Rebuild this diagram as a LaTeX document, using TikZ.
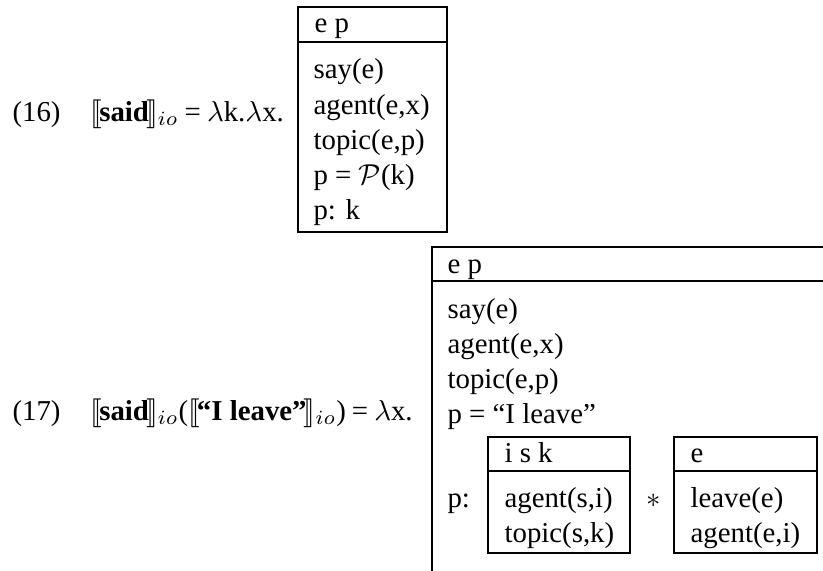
\documentclass[tikz,border=0pt]{standalone}
\usepackage{amsmath}
\usepackage{stmaryrd}
\usepackage{fontspec}
\setmainfont{Liberation Serif}
\usetikzlibrary{positioning}

\begin{document}
\begin{tikzpicture}[x=0.347pt,y=-0.347pt,
    every node/.style={anchor=base west,inner sep=0pt,
        font=\fontsize{10}{12}\selectfont},
    drs/.style={line width=0.4pt},
]
\clip (0,0) rectangle (823,570);
% (16): the verb alone
\node (n16) at (12,121) {(16)};
\node (lhs16) at (90,121)
    {$\llbracket\kern-1pt$\textbf{said}$\kern-1pt\rrbracket_{io}$\kern-.4pt{} = \kern-.4pt$\lambda$k.$\lambda$x.};
\draw[drs] (298,7) rectangle (447,232) (298,42) -- (447,42);
\node (u16) at (314,33) {e p};
\node (c16a) at (313,79) {say(e)};
\node (c16b) at (313,114) {agent(e,x)};
\node (c16c) at (313,149) {topic(e,p)};
\node (c16d) at (313,184) {p = $\mathcal{P}$(k)};
\node (c16e) at (313,219) {p: k};

% (17): applied to the quote
\node (n17) at (12,420) {(17)};
\node (lhs17) at (90,420)
    {$\llbracket\kern-1pt$\textbf{said}$\kern-1pt\rrbracket_{io}$($\llbracket\kern-1pt$\textbf{“I leave”}$\kern-1pt\rrbracket_{io}$)\kern-.4pt{} = \kern-.4pt$\lambda$x.};
\draw[drs] (840,247) -- (432,247) -- (432,590) (432,281) -- (840,281);
\node (u17) at (447,273) {e p};
\node (c17a) at (447,318) {say(e)};
\node (c17b) at (447,353) {agent(e,x)};
\node (c17c) at (447,388) {topic(e,p)};
\node (c17d) at (447,423) {p = “I leave”};
\node (c17e) at (447,507) {p:};
% the two merged boxes
\draw[drs] (488,437) rectangle (630,553) (488,471) -- (630,471);
\node (ua) at (504,462) {i s k};
\node (ca1) at (504,507) {agent(s,i)};
\node (ca2) at (504,542) {topic(s,k)};
\node (merge) at (646,507) {$\ast$};
\draw[drs] (674,437) rectangle (817,553) (674,471) -- (817,471);
\node (ub) at (690,462) {e};
\node (cb1) at (690,507) {leave(e)};
\node (cb2) at (690,542) {agent(e,i)};
\end{tikzpicture}
\end{document}
